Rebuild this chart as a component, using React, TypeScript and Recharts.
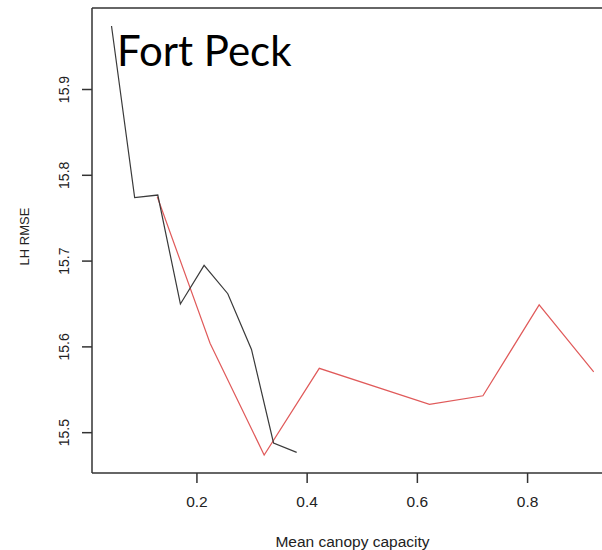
import React from "react";
import { LineChart, Line, XAxis, YAxis, ReferenceLine, Label } from "recharts";

// black series
const blackX = [0.045, 0.087, 0.129, 0.17, 0.213, 0.256, 0.299, 0.339, 0.381];
const blackY = [15.974, 15.774, 15.777, 15.65, 15.695, 15.662, 15.597, 15.488, 15.477];

// red series
const redX = [0.128, 0.224, 0.322, 0.422, 0.622, 0.719, 0.821, 0.92];
const redY = [15.775, 15.604, 15.474, 15.575, 15.533, 15.543, 15.649, 15.571];

const xTicks = [0.2, 0.4, 0.6, 0.8];
const yTicks = [15.5, 15.6, 15.7, 15.8, 15.9];
const xDomain = [0.0096, 0.955];
const yDomain = [15.453, 15.995];

const blackData = blackX.map((x, i) => ({ x, y: blackY[i] }));
const redData = redX.map((x, i) => ({ x, y: redY[i] }));

const FONT = "'Liberation Sans', Arial, sans-serif";
const AXIS = "#333";

function YTick({ x, y, payload }: any) {
  return (
    <text
      x={x}
      y={y}
      transform={`rotate(-90, ${x}, ${y})`}
      textAnchor="middle"
      dy="0.35em"
      fontSize={14}
      fill="#222"
      fontFamily={FONT}
    >
      {payload.value}
    </text>
  );
}

export default function App() {
  return (
    <div style={{ position: "absolute", left: 0, top: 0, width: 602, height: 550, overflow: "hidden", background: "#fff" }}>
      <LineChart width={614} height={550} margin={{ top: 8, right: 1, bottom: 0, left: 0 }}>
        <XAxis
          type="number"
          dataKey="x"
          domain={xDomain}
          ticks={xTicks}
          allowDataOverflow
          height={77}
          tickSize={10}
          tickMargin={13}
          stroke={AXIS}
          strokeWidth={1.5}
          tick={{ fontSize: 15.5, fill: "#222", fontFamily: FONT }}
        >
          <Label
            content={({ viewBox }: any) => (
              <text
                x={viewBox.x + viewBox.width / 2}
                y={547}
                textAnchor="middle"
                fontSize={15.5}
                fill="#222"
                fontFamily={FONT}
              >
                Mean canopy capacity
              </text>
            )}
          />
        </XAxis>
        <YAxis
          type="number"
          dataKey="y"
          domain={yDomain}
          ticks={yTicks}
          allowDataOverflow
          width={92}
          tickSize={10}
          tickMargin={18}
          stroke={AXIS}
          strokeWidth={1.5}
          tick={<YTick />}
        >
          <Label
            content={({ viewBox }: any) => {
              const cx = 24;
              const cy = viewBox.y + viewBox.height / 2 - 4;
              return (
                <text
                  x={cx}
                  y={cy}
                  transform={`rotate(-90, ${cx}, ${cy})`}
                  textAnchor="middle"
                  dy="0.35em"
                  fontSize={13}
                  fill="#222"
                  fontFamily={FONT}
                >
                  LH RMSE
                </text>
              );
            }}
          />
        </YAxis>
        <ReferenceLine y={yDomain[1]} stroke={AXIS} strokeWidth={1.5} ifOverflow="extendDomain" />
        <Line
          data={redData}
          dataKey="y"
          type="linear"
          stroke="#e05a5a"
          strokeWidth={1.2}
          dot={false}
          isAnimationActive={false}
        />
        <Line
          data={blackData}
          dataKey="y"
          type="linear"
          stroke="#3a3a3a"
          strokeWidth={1.2}
          dot={false}
          isAnimationActive={false}
        />
      </LineChart>
      <div
        style={{
          position: "absolute",
          left: 117,
          top: 20,
          fontFamily: "Lato, 'Open Sans', sans-serif",
          fontSize: 42,
          lineHeight: "60px",
          color: "#000",
          whiteSpace: "nowrap",
        }}
      >
        Fort Peck
      </div>
    </div>
  );
}
